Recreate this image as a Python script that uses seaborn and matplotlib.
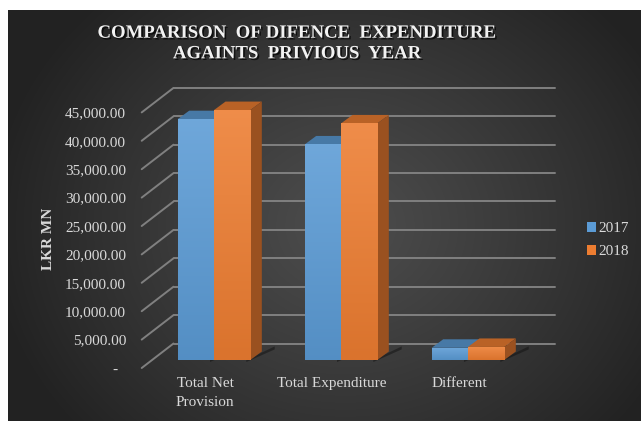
import numpy as np
import pandas as pd
import matplotlib
matplotlib.use("Agg")
import matplotlib.pyplot as plt
import seaborn as sns
from matplotlib import transforms
from matplotlib.patches import Polygon
from matplotlib.colors import to_rgb
import matplotlib.patheffects as pe

# ---------------- data ----------------
categories = ["Total Net\nProvision", "Total Expenditure", "Different"]
years = ["2017", "2018"]
values_2017 = [42400, 37950, 2150]
values_2018 = [44000, 41650, 2300]
y_ticks = [0, 5000, 10000, 15000, 20000, 25000, 30000, 35000, 40000, 45000]
title_lines = ["COMPARISON  OF DIFENCE  EXPENDITURE", "AGAINTS  PRIVIOUS  YEAR"]
y_label = "LKR MN"

BLUE = "#5b9bd5"
ORANGE = "#ed7d31"
TEXT = "#d9d9d9"
GRID = "#808080"

df = pd.DataFrame({
    "category": categories * 2,
    "year": [years[0]] * len(categories) + [years[1]] * len(categories),
    "value": values_2017 + values_2018,
})

sns.set_style("dark")
plt.rcParams["font.family"] = ["Liberation Serif", "DejaVu Serif"]

W, H, DPI = 641, 421, 100
fig = plt.figure(figsize=(W / DPI, H / DPI), dpi=DPI, facecolor="white")

# ---------------- background (radial dark gradient) ----------------
bg = fig.add_axes([8 / W, 0, 1 - 8 / W, 1 - 10 / H], zorder=-10)
ii, jj = np.mgrid[0:411, 0:633]
px, py = jj + 8.0, ii + 10.0
r = np.sqrt((px - 345) ** 2 + ((py - 225) * 1.15) ** 2)
t = np.clip(r / 360.0, 0, 1) ** 1.1
light = np.array(to_rgb("#4d4d4d"))
dark = np.array(to_rgb("#222222"))
img = light[None, None, :] * (1 - t[..., None]) + dark[None, None, :] * t[..., None]
bg.imshow(img, aspect="auto", extent=(0, 1, 0, 1), interpolation="bilinear")
bg.set_axis_off()

# ---------------- main axes ----------------
ax_left, ax_bottom_px, ax_w, ax_h = 150.5, 360.0, 381.0, 255.6
ax = fig.add_axes([ax_left / W, (H - ax_bottom_px) / H, ax_w / W, ax_h / H])
ax.set_facecolor("none")

sns.barplot(data=df, x="category", y="value", hue="year", hue_order=years,
            palette=[BLUE, ORANGE], width=0.572, saturation=1, ax=ax,
            edgecolor="none", linewidth=0)

ax.set_xlim(-0.5, 2.5)
ax.set_ylim(0, 45000)
ax.set_yticks(y_ticks)
ax.set_yticklabels(["-  " if v == 0 else f"{v:,.2f}" for v in y_ticks])
for s in ax.spines.values():
    s.set_visible(False)
ax.grid(False)
ax.set_xlabel("")
ax.set_ylabel(y_label, fontsize=11, fontweight="bold", color=TEXT)
ax.yaxis.set_label_coords(-0.2507, 0.4734)
ax.tick_params(axis="y", length=0, pad=11.3, labelsize=11, labelcolor=TEXT)
ax.tick_params(axis="x", length=0, pad=6.5, labelsize=11, labelcolor=TEXT)
for lab in ax.get_xticklabels():
    lab.set_linespacing(1.55)

# front-plane offset for tick labels (3-D look)
FRONT = (-8.8, -8.0)
BACK = (23.0, 16.5)
for tk in ax.yaxis.get_major_ticks() + ax.xaxis.get_major_ticks():
    tk.label1.set_transform(tk.label1.get_transform() + transforms.Affine2D().translate(*FRONT))

ident = transforms.IdentityTransform()

# back wall gridlines + side wall diagonals
for v in y_ticks:
    ax.plot([-0.5, 2.5], [v, v], color=GRID, lw=1.4, clip_on=False, zorder=0.3,
            transform=ax.transData + transforms.Affine2D().translate(*BACK))
    p = ax.transData.transform((-0.5, v))
    ax.plot([p[0] + FRONT[0], p[0] + BACK[0]], [p[1] + FRONT[1], p[1] + BACK[1]],
            color=GRID, lw=1.4, clip_on=False, zorder=0.3, transform=ident)

# 3-D bar faces + gradient front faces
DEPTH = np.array([11.5, 8.5])


def shade(c, f):
    c = np.array(to_rgb(c))
    if f >= 0:
        return tuple(c + (1 - c) * f)
    return tuple(c * (1 + f))


for cont, col in zip(ax.containers, [BLUE, ORANGE]):
    for rect in cont:
        x0, w, h = rect.get_x(), rect.get_width(), rect.get_height()
        x1 = x0 + w
        pa = ax.transData.transform((x0, h))
        pb = ax.transData.transform((x1, h))
        pc = ax.transData.transform((x1, 0))
        # floor shadow
        shadow = Polygon([pc + [-4, 0], pc + DEPTH * 1.6 + [6, 0],
                          pc + DEPTH * 1.6 + [6, -3], pc + [-4, -2]],
                         closed=True, transform=ident, facecolor="#111111",
                         edgecolor="none", alpha=0.5, zorder=0.4, clip_on=False)
        ax.add_patch(shadow)
        top = Polygon([pa, pb, pb + DEPTH, pa + DEPTH], closed=True, transform=ident,
                      facecolor=shade(col, -0.22), edgecolor="none", zorder=0.8, clip_on=False)
        side = Polygon([pc, pb, pb + DEPTH, pc + DEPTH], closed=True, transform=ident,
                       facecolor=shade(col, -0.35), edgecolor="none", zorder=0.8, clip_on=False)
        ax.add_patch(top)
        ax.add_patch(side)
        rect.set_zorder(1.0)
        grad = np.linspace(0, 1, 64)[:, None, None]
        ctop = np.array(shade(col, 0.12))
        cbot = np.array(shade(col, -0.08))
        g = cbot[None, None, :] * (1 - grad) + ctop[None, None, :] * grad
        im = ax.imshow(g, extent=(x0, x1, 0, h), origin="lower", aspect="auto",
                       zorder=1.05, interpolation="bilinear")
        im.set_clip_path(rect)

ax.set_xlim(-0.5, 2.5)
ax.set_ylim(0, 45000)

# legend
handles, labels = ax.get_legend_handles_labels()
if ax.get_legend() is not None:
    ax.get_legend().remove()
fig.legend(handles, labels, loc="upper left", bbox_to_anchor=(586.7 / W, 1 - 222.0 / H),
           frameon=False, fontsize=11, handlelength=0.61, handleheight=0.61,
           handletextpad=0.15, labelspacing=0.65, borderpad=0, borderaxespad=0,
           labelcolor=TEXT)

# title (two lines)
shadow_fx = [pe.withSimplePatchShadow(offset=(1.2, -1.2), shadow_rgbFace="black", alpha=0.7)]
fig.text(296.5 / W, 1 - 37.7 / H, title_lines[0], ha="center", va="baseline",
         fontsize=13.5, fontweight="bold", color="#f2f2f2", path_effects=shadow_fx)
fig.text(297.0 / W, 1 - 58.3 / H, title_lines[1], ha="center", va="baseline",
         fontsize=13.5, fontweight="bold", color="#f2f2f2", path_effects=shadow_fx)

fig.savefig("out.png", dpi=DPI, facecolor=fig.get_facecolor())
